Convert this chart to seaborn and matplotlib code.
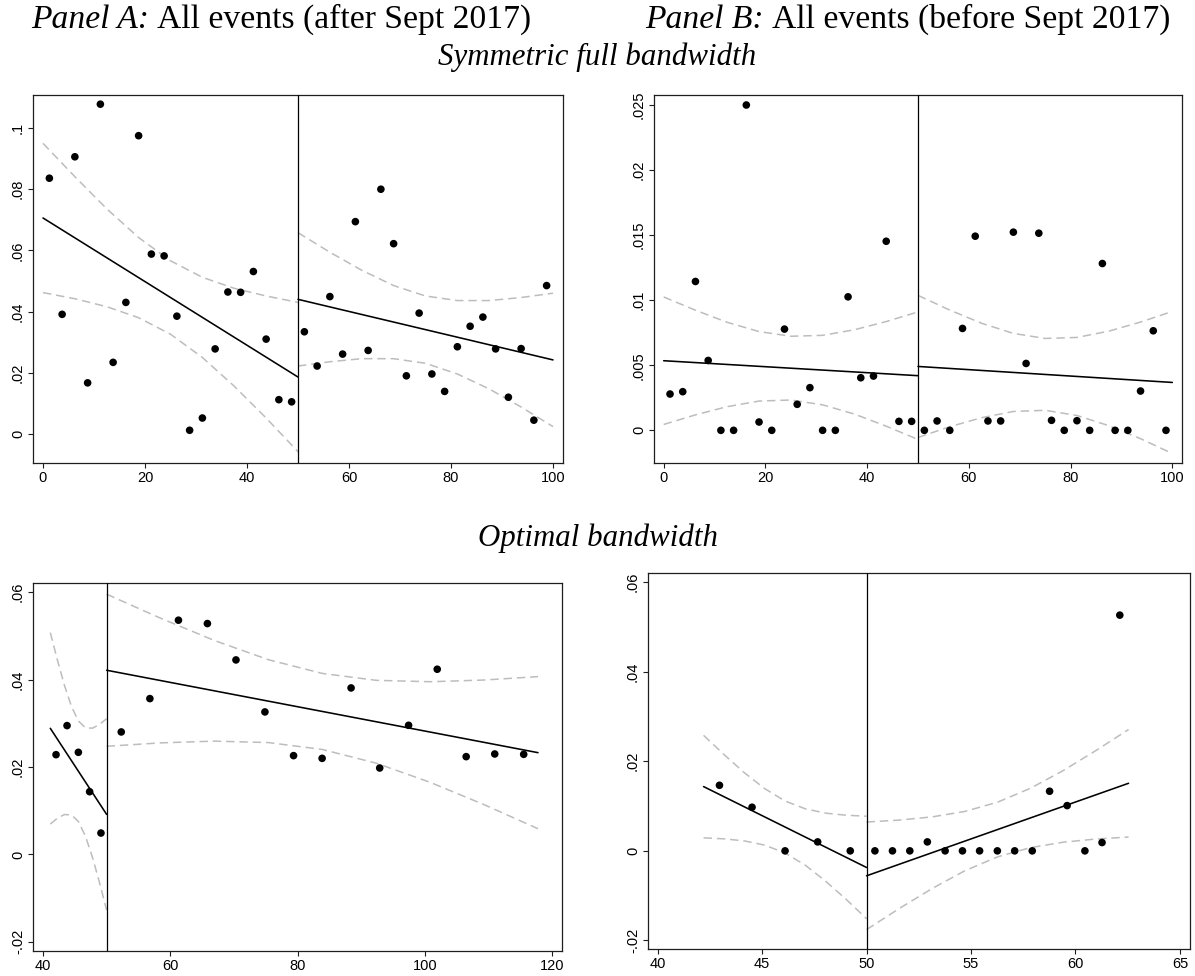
import numpy as np
import pandas as pd
import matplotlib
matplotlib.use("Agg")
import matplotlib.pyplot as plt
import seaborn as sns

# ---------------- data ----------------
# Panel A (after Sept 2017), symmetric full bandwidth
A_left_x = [1.25, 3.75, 6.25, 8.75, 11.25, 13.75, 16.25, 18.75, 21.25, 23.75,
            26.25, 28.75, 31.25, 33.75, 36.25, 38.75, 41.25, 43.75, 46.25, 48.75]
A_left_y = [0.0836, 0.0391, 0.0906, 0.0167, 0.1078, 0.0234, 0.0430, 0.0975, 0.0588, 0.0582,
            0.0385, 0.0012, 0.0052, 0.0278, 0.0464, 0.0463, 0.0531, 0.0310, 0.0112, 0.0105]
A_right_x = [51.25, 53.75, 56.25, 58.75, 61.25, 63.75, 66.25, 68.75, 71.25, 73.75,
             76.25, 78.75, 81.25, 83.75, 86.25, 88.75, 91.25, 93.75, 96.25, 98.75]
A_right_y = [0.0334, 0.0222, 0.0449, 0.0261, 0.0694, 0.0273, 0.0800, 0.0622, 0.0190, 0.0395,
             0.0196, 0.0139, 0.0285, 0.0352, 0.0382, 0.0278, 0.0120, 0.0279, 0.0045, 0.0485]
A_left_fit_x = [0, 50]
A_left_fit_y = [0.0706, 0.0186]
A_right_fit_x = [50, 100]
A_right_fit_y = [0.0440, 0.0242]
A_left_ci_x = [0, 6.25, 12.5, 18.75, 25, 31.25, 37.5, 43.75, 50]
A_left_ci_hi = [0.0950, 0.0841, 0.0736, 0.0642, 0.0566, 0.0512, 0.0476, 0.0451, 0.0430]
A_left_ci_lo = [0.0462, 0.0442, 0.0416, 0.0380, 0.0326, 0.0250, 0.0156, 0.0052, -0.0058]
A_right_ci_x = [50, 56.25, 62.5, 68.75, 75, 81.25, 87.5, 93.75, 100]
A_right_ci_hi = [0.0658, 0.0594, 0.0535, 0.0485, 0.0451, 0.0436, 0.0436, 0.0446, 0.0460]
A_right_ci_lo = [0.0222, 0.0236, 0.0246, 0.0246, 0.0231, 0.0196, 0.0147, 0.0088, 0.0024]

# Panel B (before Sept 2017), symmetric full bandwidth
B_left_x = A_left_x
B_left_y = [0.00279, 0.00297, 0.01144, 0.00537, 0.0, 0.0, 0.0250, 0.00064, 0.0, 0.00778,
            0.00200, 0.00328, 0.0, 0.0, 0.01026, 0.00404, 0.00417, 0.01453, 0.00069, 0.00069]
B_right_x = A_right_x
B_right_y = [0.0, 0.00072, 0.0, 0.00783, 0.01492, 0.00072, 0.00072, 0.01523, 0.00514, 0.01515,
             0.00077, 0.0, 0.00074, 0.0, 0.01282, 0.0, 0.0, 0.00302, 0.00765, 0.0]
B_left_fit_x = [0, 50]
B_left_fit_y = [0.00535, 0.00420]
B_right_fit_x = [50, 100]
B_right_fit_y = [0.00491, 0.00368]
B_left_ci_x = A_left_ci_x
B_left_ci_hi = [0.01025, 0.00923, 0.00830, 0.00759, 0.00723, 0.00730, 0.00773, 0.00836, 0.00910]
B_left_ci_lo = [0.00045, 0.00119, 0.00182, 0.00225, 0.00233, 0.00196, 0.00125, 0.00032, -0.00070]
B_right_ci_x = A_right_ci_x
B_right_ci_hi = [0.01037, 0.00924, 0.00823, 0.00745, 0.00706, 0.00714, 0.00762, 0.00832, 0.00914]
B_right_ci_lo = [-0.00055, 0.00028, 0.00097, 0.00145, 0.00154, 0.00114, 0.00036, -0.00064, -0.00178]

# Panel C (after Sept 2017), optimal bandwidth
C_left_x = [42.05, 43.78, 45.56, 47.33, 49.11]
C_left_y = [0.02282, 0.02947, 0.02336, 0.01435, 0.00489]
C_right_x = [52.30, 56.80, 61.29, 65.84, 70.33, 74.88, 79.38, 83.87, 88.42, 92.92,
             97.46, 101.96, 106.51, 111.00, 115.55]
C_right_y = [0.02802, 0.03565, 0.05359, 0.05282, 0.04450, 0.03260, 0.02260, 0.02198, 0.03809, 0.01977,
             0.02954, 0.04237, 0.02237, 0.02298, 0.02290]
C_left_fit_x = [41.15, 50]
C_left_fit_y = [0.02885, 0.00916]
C_right_fit_x = [50, 117.8]
C_right_fit_y = [0.04214, 0.02328]
C_left_ci_x = [41.15, 42.26, 43.36, 44.47, 45.58, 46.68, 47.79, 48.89, 50.0]
C_left_ci_hi = [0.05075, 0.04450, 0.03874, 0.03387, 0.03050, 0.02895, 0.02889, 0.02973, 0.03106]
C_left_ci_lo = [0.00695, 0.00828, 0.00912, 0.00905, 0.00750, 0.00413, -0.00073, -0.00649, -0.01274]
C_right_ci_x = [50, 58.48, 66.95, 75.43, 83.9, 92.38, 100.85, 109.33, 117.8]
C_right_ci_hi = [0.05954, 0.05404, 0.04894, 0.04455, 0.04141, 0.03983, 0.03951, 0.03990, 0.04068]
C_right_ci_lo = [0.02474, 0.02552, 0.02592, 0.02559, 0.02401, 0.02087, 0.01649, 0.01138, 0.00588]

# Panel D (before Sept 2017), optimal bandwidth
D_left_x = [42.96, 44.52, 46.10, 47.66, 49.22]
D_left_y = [0.01463, 0.00973, 0.0, 0.00200, 0.0]
D_right_x = [50.40, 51.24, 52.07, 52.91, 53.76, 54.59, 55.41, 56.26, 57.09, 57.93,
             58.76, 59.60, 60.45, 61.27, 62.12]
D_right_y = [0.0, 0.0, 0.0, 0.00200, 0.0, 0.0, 0.0, 0.0, 0.0, 0.0,
             0.01330, 0.01010, 0.0, 0.00186, 0.05260]
D_left_fit_x = [42.2, 50]
D_left_fit_y = [0.01434, -0.00371]
D_right_fit_x = [50, 62.54]
D_right_fit_y = [-0.00557, 0.01508]
D_left_ci_x = [42.2, 43.18, 44.15, 45.13, 46.1, 47.08, 48.05, 49.03, 50]
D_left_ci_hi = [0.02578, 0.02148, 0.01744, 0.01387, 0.01112, 0.00936, 0.00841, 0.00795, 0.00773]
D_left_ci_lo = [0.00290, 0.00268, 0.00222, 0.00127, -0.00048, -0.00324, -0.00681, -0.01085, -0.01515]
D_right_ci_x = [50, 51.57, 53.14, 54.70, 56.27, 57.84, 59.41, 60.97, 62.54]
D_right_ci_hi = [0.00643, 0.00687, 0.00758, 0.00879, 0.01086, 0.01396, 0.01791, 0.02236, 0.02708]
D_right_ci_lo = [-0.01757, -0.01285, -0.00840, -0.00445, -0.00134, 0.00072, 0.00193, 0.00264, 0.00308]

CUTOFF = 50

# ticks
A_xticks = [0, 20, 40, 60, 80, 100]
A_yticks = [0, 0.02, 0.04, 0.06, 0.08, 0.1]
A_ylabels = ["0", ".02", ".04", ".06", ".08", ".1"]
B_xticks = [0, 20, 40, 60, 80, 100]
B_yticks = [0, 0.005, 0.01, 0.015, 0.02, 0.025]
B_ylabels = ["0", ".005", ".01", ".015", ".02", ".025"]
C_xticks = [40, 60, 80, 100, 120]
C_yticks = [-0.02, 0, 0.02, 0.04, 0.06]
C_ylabels = ["-.02", "0", ".02", ".04", ".06"]
D_xticks = [40, 45, 50, 55, 60, 65]
D_yticks = [-0.02, 0, 0.02, 0.04, 0.06]
D_ylabels = ["-.02", "0", ".02", ".04", ".06"]

TITLE_A = [("Panel A:", "italic"), ("All events (after Sept 2017)", "normal")]
TITLE_B = [("Panel B:", "italic"), ("All events (before Sept 2017)", "normal")]
SUB_TOP = "Symmetric full bandwidth"
SUB_BOTTOM = "Optimal bandwidth"

# ---------------- style ----------------
sns.set_theme(style="white")
plt.rcParams["font.family"] = ["Liberation Sans", "DejaVu Sans"]
plt.rcParams["text.color"] = "black"
SERIF = ["Liberation Serif", "DejaVu Serif"]
CI_COLOR = "#bdbdbd"
FRAME = "#1e1e1e"

W, H = 1195, 976
fig = plt.figure(figsize=(W / 100, H / 100), dpi=100)
fig.patch.set_facecolor("white")


def add_ax(l, t, r, b):
    return fig.add_axes([l / W, 1 - b / H, (r - l) / W, (b - t) / H])


def draw_panel(ax, segments, xlim, ylim, xticks, yticks, ylabels):
    for seg in segments:
        px, py, fx, fy, cx, chi, clo = seg
        for cy in (chi, clo):
            sns.lineplot(x=cx, y=cy, ax=ax, color=CI_COLOR, linewidth=1.1,
                         linestyle=(0, (5.5, 3.2)), estimator=None, sort=False,
                         errorbar=None)
        sns.lineplot(x=fx, y=fy, ax=ax, color="black", linewidth=1.15,
                     estimator=None, sort=False, errorbar=None)
        sns.scatterplot(x=px, y=py, ax=ax, color="black", s=30, linewidth=0,
                        edgecolor="none", zorder=4)
    ax.axvline(CUTOFF, color="black", linewidth=0.9, zorder=3)
    ax.set_xlim(*xlim)
    ax.set_ylim(*ylim)
    ax.set_xticks(xticks)
    ax.set_xticklabels([str(v) for v in xticks])
    ax.set_yticks(yticks)
    ax.set_yticklabels(ylabels, rotation=90, va="center")
    ax.tick_params(axis="both", direction="out", length=3.3, width=0.8,
                   color=FRAME, labelsize=10.5, pad=2.5, labelcolor="black",
                   bottom=True, left=True, top=False, right=False)
    ax.grid(False)
    for sp in ax.spines.values():
        sp.set_color(FRAME)
        sp.set_linewidth(0.9)
    ax.set_xlabel("")
    ax.set_ylabel("")


axA = add_ax(33, 95, 563, 463)
draw_panel(axA,
           [(A_left_x, A_left_y, A_left_fit_x, A_left_fit_y, A_left_ci_x, A_left_ci_hi, A_left_ci_lo),
            (A_right_x, A_right_y, A_right_fit_x, A_right_fit_y, A_right_ci_x, A_right_ci_hi, A_right_ci_lo)],
           (-1.96, 101.96), (-0.0095, 0.1108), A_xticks, A_yticks, A_ylabels)

axB = add_ax(654, 95, 1182, 463)
draw_panel(axB,
           [(B_left_x, B_left_y, B_left_fit_x, B_left_fit_y, B_left_ci_x, B_left_ci_hi, B_left_ci_lo),
            (B_right_x, B_right_y, B_right_fit_x, B_right_fit_y, B_right_ci_x, B_right_ci_hi, B_right_ci_lo)],
           (-1.9, 101.9), (-0.00251, 0.02577), B_xticks, B_yticks, B_ylabels)

axC = add_ax(33, 583, 562, 951)
draw_panel(axC,
           [(C_left_x, C_left_y, C_left_fit_x, C_left_fit_y, C_left_ci_x, C_left_ci_hi, C_left_ci_lo),
            (C_right_x, C_right_y, C_right_fit_x, C_right_fit_y, C_right_ci_x, C_right_ci_hi, C_right_ci_lo)],
           (38.43, 121.57), (-0.0221, 0.0621), C_xticks, C_yticks, C_ylabels)

axD = add_ax(648, 573, 1190, 949)
draw_panel(axD,
           [(D_left_x, D_left_y, D_left_fit_x, D_left_fit_y, D_left_ci_x, D_left_ci_hi, D_left_ci_lo),
            (D_right_x, D_right_y, D_right_fit_x, D_right_fit_y, D_right_ci_x, D_right_ci_hi, D_right_ci_lo)],
           (39.54, 65.48), (-0.0219, 0.062), D_xticks, D_yticks, D_ylabels)

# ---------------- titles ----------------
renderer = fig.canvas.get_renderer()


def text_w(s, size, style):
    t = fig.text(0, 0, s, fontsize=size, family=SERIF, style=style)
    w = t.get_window_extent(renderer=renderer).width
    t.remove()
    return w


def space_w(size):
    return text_w("a a", size, "normal") - text_w("aa", size, "normal")


def parts_w(parts, size):
    return sum(text_w(s, size, st) for s, st in parts) + space_w(size) * (len(parts) - 1)


def place_parts(x_px, base_px, parts, size):
    x = x_px
    gap = space_w(size)
    for s, st in parts:
        fig.text(x / 100, (H - base_px) / 100, s, transform=fig.dpi_scale_trans,
                 fontsize=size, family=SERIF, style=st, ha="left", va="baseline",
                 color="black")
        x += text_w(s, size, st) + gap


BASE = 24.0
title_size = BASE * 501.0 / parts_w(TITLE_A, BASE)
place_parts(31, 28, TITLE_A, title_size)
place_parts(645, 28, TITLE_B, title_size)

sub_size = BASE * 319.0 / text_w(SUB_TOP, BASE, "italic")
fig.text(597.5 / 100, (H - 65) / 100, SUB_TOP, transform=fig.dpi_scale_trans,
         fontsize=sub_size, family=SERIF, style="italic", ha="center", va="baseline",
         color="black")
fig.text(597.5 / 100, (H - 546) / 100, SUB_BOTTOM, transform=fig.dpi_scale_trans,
         fontsize=sub_size, family=SERIF, style="italic", ha="center", va="baseline",
         color="black")

fig.savefig("out.png", dpi=100, facecolor="white")
